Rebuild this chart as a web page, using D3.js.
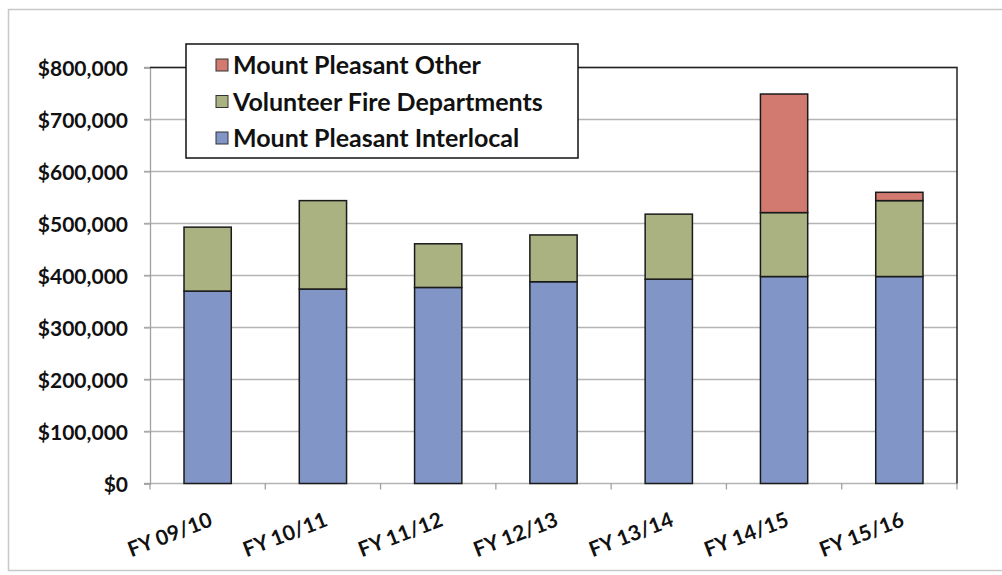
<!DOCTYPE html>
<html>
<head>
<meta charset="utf-8">
<script src="https://cdn.jsdelivr.net/npm/d3@7"></script>
<style>
  body { margin: 0; background: #fff; }
  text { font-family: Lato, "Open Sans", sans-serif; font-weight: bold; fill: #111; }
</style>
</head>
<body>
<script>
// values
var years = ["FY 09/10", "FY 10/11", "FY 11/12", "FY 12/13", "FY 13/14", "FY 14/15", "FY 15/16"];
var interlocal = [370000, 374000, 377000, 388000, 393000, 398000, 398000];
var volunteer = [123000, 170000, 84000, 90000, 125000, 123000, 146000];
var other = [0, 0, 0, 0, 0, 228000, 16000];
var seriesNames = ["Mount Pleasant Interlocal", "Volunteer Fire Departments", "Mount Pleasant Other"];
var seriesColors = ["#8195c7", "#aab282", "#d27a70"];
var yTicks = [0, 100000, 200000, 300000, 400000, 500000, 600000, 700000, 800000];

var W = 1002, H = 575;
var m = {left: 150, right: 45, top: 67.5, bottom: 91.5};

var svg = d3.select("body").append("svg")
  .attr("width", W).attr("height", H);

// outer frame of the scanned chart
svg.append("rect")
  .attr("x", 8.5).attr("y", 9.5).attr("width", 1000).attr("height", 561)
  .attr("fill", "none").attr("stroke", "#c8c8c8").attr("stroke-width", 1.5);

var x = d3.scaleBand().domain(years).range([m.left, W - m.right]).paddingInner(0.59).paddingOuter(0.295);
var y = d3.scaleLinear().domain([0, 800000]).range([H - m.bottom, m.top]);

var rows = years.map(function (yr, i) {
  return {year: yr, s0: interlocal[i], s1: volunteer[i], s2: other[i]};
});
var stack = d3.stack().keys(["s0", "s1", "s2"])(rows);

// gridlines
svg.append("g")
  .selectAll("line").data(yTicks).enter().append("line")
  .attr("x1", m.left - 6).attr("x2", W - m.right)
  .attr("y1", function (d) { return y(d); }).attr("y2", function (d) { return y(d); })
  .attr("stroke", "#b4b4b4").attr("stroke-width", 1.3);

// y labels
var yAxis = svg.append("g")
  .attr("transform", "translate(" + m.left + ",0)")
  .call(d3.axisLeft(y).tickValues(yTicks).tickSize(6).tickPadding(16)
    .tickFormat(function (d) { return "$" + d3.format(",")(d); }));
yAxis.select(".domain").attr("stroke", "#a0a0a0").attr("stroke-width", 1.3);
yAxis.selectAll(".tick line").attr("stroke", "#a0a0a0");
yAxis.selectAll("text").style("font-size", "21px").attr("dy", "0.36em");

// x axis
var boundaries = d3.range(years.length + 1).map(function (i) {
  return m.left + i * (W - m.left - m.right) / years.length;
});
svg.append("g").selectAll("line").data(boundaries).enter().append("line")
  .attr("x1", function (d) { return d; }).attr("x2", function (d) { return d; })
  .attr("y1", y(0)).attr("y2", y(0) + 6)
  .attr("stroke", "#a0a0a0").attr("stroke-width", 1.3);

svg.append("g").selectAll("text").data(years).enter().append("text")
  .attr("text-anchor", "end")
  .style("font-size", "21px")
  .attr("transform", function (d) {
    return "translate(" + (x(d) + x.bandwidth() / 2 + 6) + "," + (y(0) + 42) + ") rotate(-21)";
  })
  .text(function (d) { return d; });

// plot border top / right
svg.append("path")
  .attr("d", "M" + m.left + "," + y(800000) + "H" + (W - m.right) + "V" + y(0))
  .attr("fill", "none").attr("stroke", "#222").attr("stroke-width", 1.5);

// bars
svg.append("g").selectAll("g").data(stack).enter().append("g")
  .attr("fill", function (d, i) { return seriesColors[i]; })
  .selectAll("rect").data(function (d) { return d.filter(function (p) { return p[1] > p[0]; }); })
  .enter().append("rect")
  .attr("x", function (d) { return x(d.data.year); })
  .attr("width", x.bandwidth())
  .attr("y", function (d) { return y(d[1]); })
  .attr("height", function (d) { return y(d[0]) - y(d[1]); })
  .attr("stroke", "#1a1a1a").attr("stroke-width", 1.5);

// legend
var lg = svg.append("g").attr("transform", "translate(186,44)");
lg.append("rect").attr("width", 392).attr("height", 114)
  .attr("fill", "#fff").attr("stroke", "#111").attr("stroke-width", 1.5);
var order = [2, 1, 0];
order.forEach(function (s, k) {
  var cy = 21 + k * 36.5;
  lg.append("rect").attr("x", 30).attr("y", cy - 6).attr("width", 12).attr("height", 12)
    .attr("fill", seriesColors[s]).attr("stroke", "#333").attr("stroke-width", 1);
  lg.append("text").attr("x", 47).attr("y", cy).attr("dy", "0.36em")
    .style("font-size", "25px").text(seriesNames[s]);
});
</script>
</body>
</html>
